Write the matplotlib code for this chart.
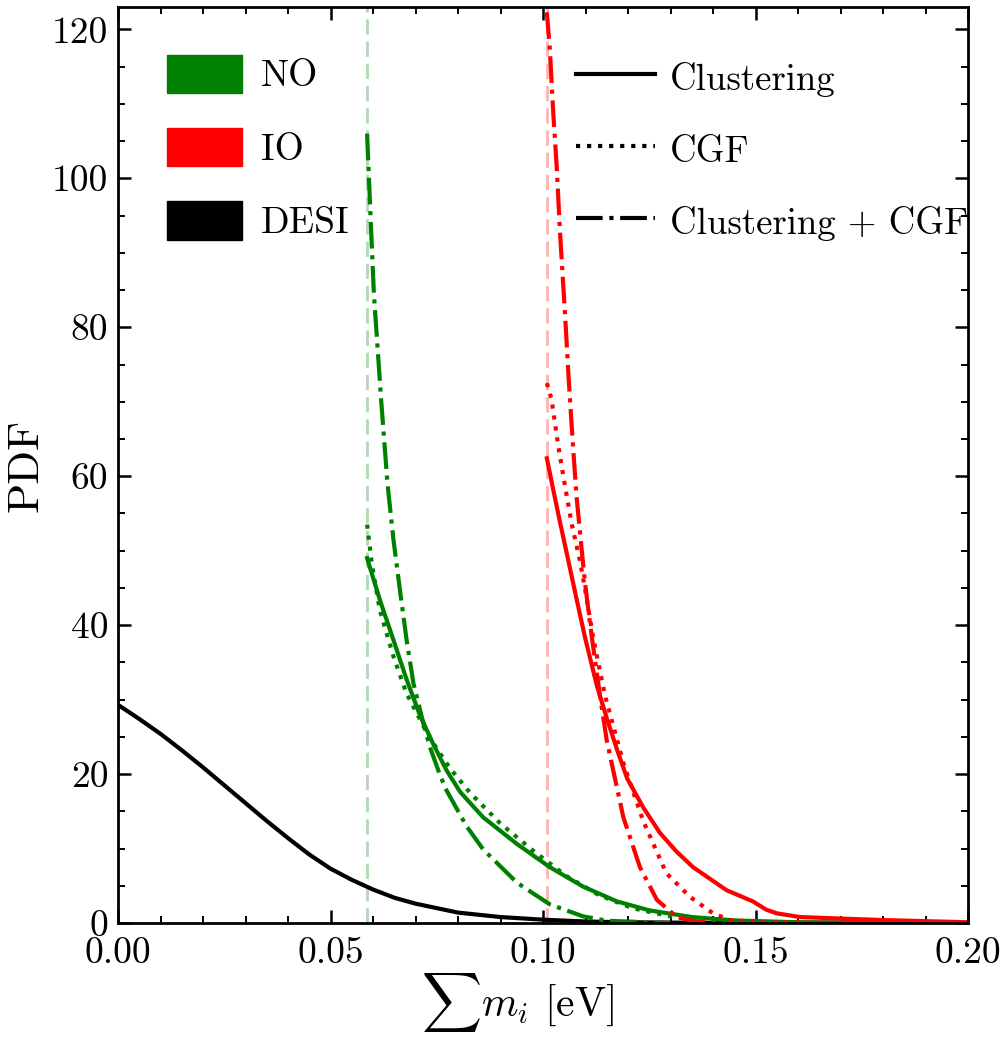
import matplotlib
matplotlib.use("Agg")
import matplotlib.pyplot as plt
from matplotlib.patches import Patch
from matplotlib.lines import Line2D
from matplotlib.ticker import MultipleLocator, FormatStrFormatter

plt.rcParams["font.family"] = "cmr10"
plt.rcParams["mathtext.fontset"] = "cm"
plt.rcParams["axes.formatter.use_mathtext"] = True
plt.rcParams["axes.unicode_minus"] = False

# lower bounds of the mass sum for each ordering
no_min = 0.0586
io_min = 0.1009

# DESI
desi_x = [0.0, 0.005, 0.01, 0.015, 0.02, 0.025, 0.03, 0.035, 0.04, 0.045, 0.05, 0.055, 0.06,
          0.065, 0.07, 0.08, 0.09, 0.10, 0.11, 0.12, 0.14, 0.2]
desi_y = [29.3, 27.4, 25.4, 23.2, 20.9, 18.5, 16.1, 13.7, 11.4, 9.2, 7.3, 5.8, 4.5,
          3.4, 2.6, 1.4, 0.8, 0.45, 0.2, 0.1, 0.02, 0.0]

# NO
no_clu_x = [0.0586, 0.0616, 0.0648, 0.0679, 0.0711, 0.0742, 0.0773, 0.0805, 0.0859, 0.0939,
            0.1016, 0.1094, 0.1174, 0.125, 0.135, 0.145, 0.16, 0.2]
no_clu_y = [49.0, 43.4, 38.0, 32.7, 27.8, 24.0, 20.5, 17.6, 14.2, 10.6,
            7.5, 4.9, 2.9, 1.7, 0.8, 0.35, 0.1, 0.0]

no_cgf_x = [0.0586, 0.0597, 0.0616, 0.0648, 0.0679, 0.072, 0.075, 0.0781, 0.0828, 0.0899,
            0.0977, 0.1055, 0.113, 0.121, 0.13, 0.14, 0.15, 0.2]
no_cgf_y = [53.5, 48.3, 42.0, 35.8, 30.8, 26.3, 23.4, 20.8, 17.5, 13.4,
            9.7, 6.3, 3.8, 2.0, 0.9, 0.3, 0.1, 0.0]

no_both_x = [0.0586, 0.0594, 0.0602, 0.0619, 0.0634, 0.0648, 0.0664, 0.0679, 0.0695, 0.0715,
             0.0734, 0.0758, 0.0773, 0.082, 0.0859, 0.0939, 0.1016, 0.1094, 0.115, 0.13]
no_both_y = [106.0, 95.0, 84.5, 70.3, 59.0, 51.5, 44.4, 38.0, 32.2, 27.6,
             23.6, 19.8, 17.8, 13.0, 9.9, 5.4, 2.5, 0.9, 0.3, 0.0]

# IO
io_clu_x = [0.1009, 0.1024, 0.104, 0.1056, 0.1071, 0.1087, 0.1099, 0.1127, 0.115, 0.1174,
            0.1198, 0.1236, 0.1275, 0.1314, 0.1353, 0.1432, 0.1494, 0.1525, 0.155, 0.1605,
            0.17, 0.18, 0.19, 0.2]
io_clu_y = [62.4, 58.2, 53.8, 49.6, 45.6, 41.4, 38.3, 31.8, 27.5, 23.3,
            19.4, 15.5, 12.1, 9.6, 7.5, 4.4, 2.9, 1.8, 1.3, 0.8,
            0.6, 0.4, 0.25, 0.1]

io_cgf_x = [0.1009, 0.102, 0.1036, 0.1052, 0.1067, 0.1087, 0.1099, 0.1118, 0.1146, 0.1189,
            0.1235, 0.129, 0.1346, 0.14, 0.144, 0.15, 0.2]
io_cgf_y = [72.5, 70.3, 64.0, 58.6, 53.7, 48.6, 44.8, 38.3, 30.5, 21.5,
            13.8, 6.7, 3.5, 1.3, 0.4, 0.1, 0.0]

io_both_x = [0.1009, 0.1016, 0.1024, 0.1032, 0.104, 0.1052, 0.106, 0.1071, 0.1079, 0.1091,
             0.1099, 0.1111, 0.1134, 0.115, 0.1189, 0.1228, 0.1268, 0.1315, 0.135, 0.14]
io_both_y = [122.3, 117.3, 108.9, 101.7, 92.7, 81.5, 73.4, 63.6, 57.2, 50.1,
             45.6, 40.0, 30.5, 24.5, 14.2, 7.5, 3.1, 0.8, 0.3, 0.0]

lw = 3.0

fig = plt.figure(figsize=(10.02, 10.52), dpi=100)
ax = fig.add_axes([0.1178, 0.1226, 0.8483, 0.8707])

ax.axvline(no_min, color="green", alpha=0.3, lw=2, dashes=(5.5, 2.5))
ax.axvline(io_min, color="red", alpha=0.3, lw=2, dashes=(5.5, 2.5))

ax.plot(desi_x, desi_y, color="black", lw=lw)

ax.plot(no_clu_x, no_clu_y, color="green", lw=lw, ls="-")
ax.plot(no_cgf_x, no_cgf_y, color="green", lw=lw, ls=":")
ax.plot(no_both_x, no_both_y, color="green", lw=lw, ls="-.")

ax.plot(io_clu_x, io_clu_y, color="red", lw=lw, ls="-")
ax.plot(io_cgf_x, io_cgf_y, color="red", lw=lw, ls=":")
ax.plot(io_both_x, io_both_y, color="red", lw=lw, ls="-.")

ax.set_xlim(0, 0.2)
ax.set_ylim(0, 123)
ax.xaxis.set_major_locator(MultipleLocator(0.05))
ax.xaxis.set_minor_locator(MultipleLocator(0.01))
ax.yaxis.set_major_locator(MultipleLocator(20))
ax.yaxis.set_minor_locator(MultipleLocator(5))
ax.xaxis.set_major_formatter(FormatStrFormatter("%.2f"))
ax.yaxis.set_major_formatter(FormatStrFormatter("%d"))

ax.tick_params(which="both", direction="in", top=True, right=True, labelsize=27)
ax.tick_params(which="major", length=9.5, width=1.8)
ax.tick_params(which="minor", length=5, width=1.4)
ax.tick_params(axis="x", which="major", pad=10)
ax.tick_params(axis="y", which="major", pad=7)
for s in ax.spines.values():
    s.set_linewidth(2)

ax.set_xlabel(r"$\sum m_i$ [eV]", fontsize=30)
ax.xaxis.set_label_coords(0.47, -0.052)
ax.set_ylabel("PDF", fontsize=32)
ax.yaxis.set_label_coords(-0.084, 0.5)

order_handles = [Patch(color="green"), Patch(color="red"), Patch(color="black")]
leg1 = ax.legend(order_handles, ["NO", "IO", "DESI"], loc="upper left",
                 bbox_to_anchor=(0.018, 0.985), frameon=False, fontsize=27,
                 handlelength=2.0, handleheight=1.2, handletextpad=0.5,
                 labelspacing=0.92)
ax.add_artist(leg1)

style_handles = [Line2D([], [], color="black", lw=lw, ls="-"),
                 Line2D([], [], color="black", lw=lw, ls=":"),
                 Line2D([], [], color="black", lw=lw, ls="-.")]
ax.legend(style_handles, ["Clustering", "CGF", "Clustering + CGF"], loc="upper left",
          bbox_to_anchor=(0.5, 0.98), frameon=False, fontsize=26.5,
          handlelength=2.15, handleheight=1.2, handletextpad=0.4, labelspacing=0.92)

fig.savefig("out.png", dpi=100)
